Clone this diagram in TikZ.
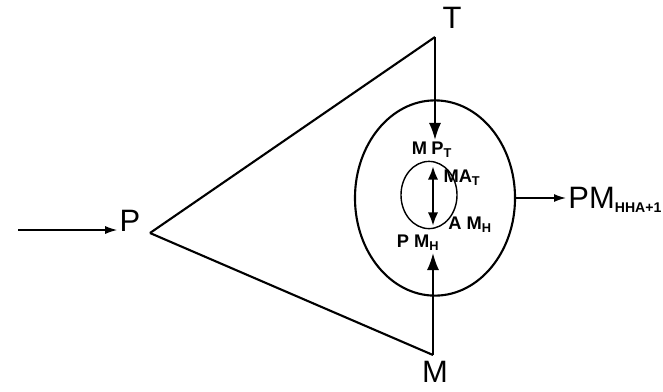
\documentclass[tikz,border=0pt]{standalone}
\usepackage{fontspec}
\setmainfont{Liberation Sans}
\usetikzlibrary{arrows.meta, positioning, shapes.geometric}

\begin{document}
\begin{tikzpicture}[
    x=0.025cm, y=-0.025cm,
    line width=1.5pt,
    every node/.style={inner sep=1pt},
    big/.style={font=\fontsize{22}{24}\selectfont},
    small/.style={font=\bfseries\fontsize{13}{15}\selectfont},
    shell/.style={draw, ellipse, inner sep=0pt},
    arr/.style={line width=1pt, -{Latex[length=4.2mm,width=3mm]}},
    thin arr/.style={line width=1pt, -{Latex[length=3mm,width=2mm]}},
    dbl/.style={line width=2pt, {Latex[length=3.4mm,width=2.6mm]}-{Latex[length=3.4mm,width=2.6mm]}}
]
\useasboundingbox (0,0) rectangle (663,391);

% corners of the triangle
\node[big] (T) at (452,18) {T};
\node[big] (P) at (130,221) {P};
\node[big] (M) at (435,372) {M};
\coordinate (tv) at (435,37);
\coordinate (pv) at (150,233);
\coordinate (mv) at (433,355);
\coordinate (src) at (18,230);

\draw (pv) -- (tv);
\draw (pv) -- (mv);
\draw[thin arr] (src) -- (P.west |- src);

% the two shells
\node[shell, minimum width=4cm, minimum height=4.88cm] (outer) at (435,198) {};
\node[shell, line width=1pt, minimum width=1.4cm, minimum height=1.68cm] (inner) at (429,195) {};

\node[small] (MPT) at (432,150) {M\hspace{3pt}P\textsubscript{T}};
\node[small] (MAT) at (462,178) {MA\textsubscript{T}};
\node[small] (AMH) at (470,225) {A M\textsubscript{H}};
\node[small] (PMH) at (418,243) {P M\textsubscript{H}};
\node[big, anchor=west] (PMout) at (566,200) {PM{\fontsize{10}{10}\selectfont\bfseries\raisebox{-0.6ex}{HHA+1}}};

\coordinate (dtop) at (433,166);
\coordinate (dbot) at (433,226);

\draw[arr] (tv) -- (tv |- MPT.north);
\draw[arr] (mv) -- (mv |- PMH.south);
\draw[dbl] (dtop) -- (dbot);
\draw[thin arr] (outer.east) -- (outer.east -| PMout.west);

\end{tikzpicture}
\end{document}
